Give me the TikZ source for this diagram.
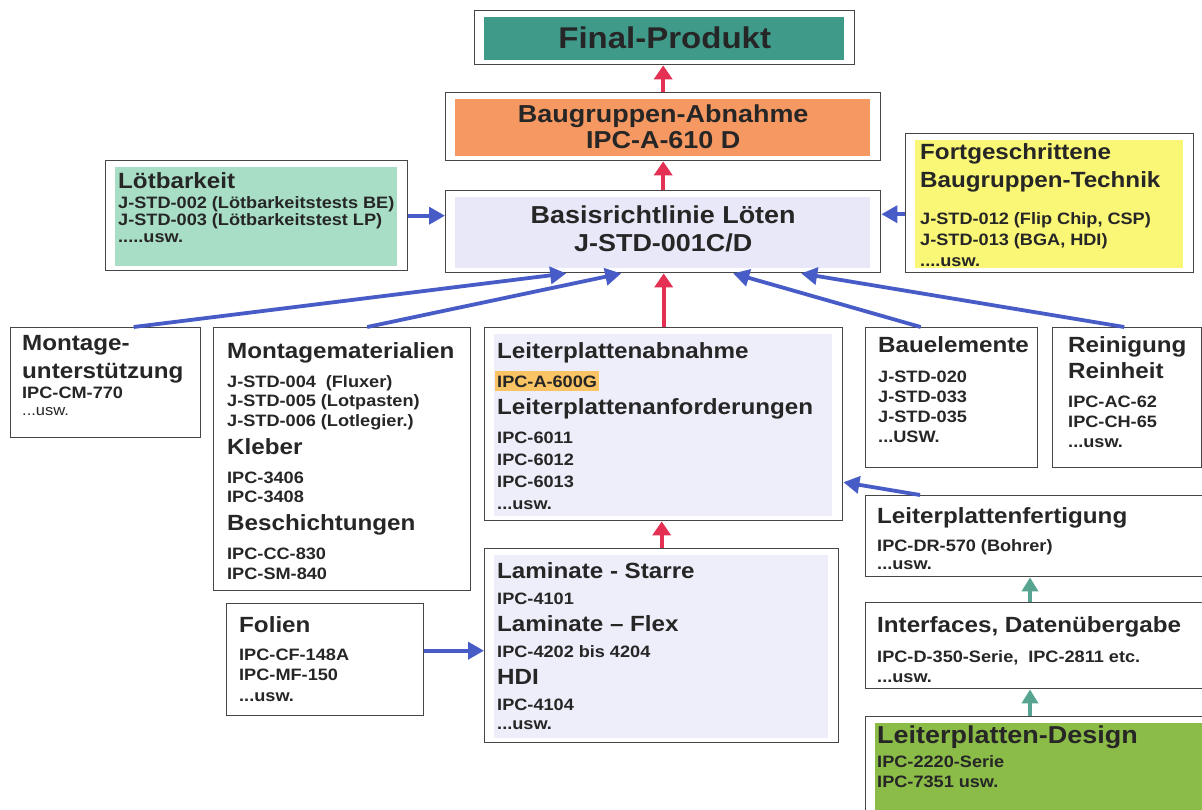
\documentclass[tikz,border=0pt]{standalone}
\usepackage{fontspec}
\setmainfont{Liberation Sans}[FakeStretch=1.1]
\usetikzlibrary{arrows.meta,positioning,calc}
\definecolor{boxgray}{RGB}{70,70,70}
\definecolor{txtgray}{RGB}{38,38,38}
\definecolor{finteal}{RGB}{64,154,138}
\definecolor{bgaorange}{RGB}{245,152,98}
\definecolor{loetmint}{RGB}{168,222,198}
\definecolor{baslav}{RGB}{232,232,248}
\definecolor{lplav}{RGB}{238,238,250}
\definecolor{fortyellow}{RGB}{250,246,118}
\definecolor{desgreen}{RGB}{140,188,72}
\definecolor{hlorange}{RGB}{250,196,100}
\definecolor{arrred}{RGB}{228,48,82}
\definecolor{arrblue}{RGB}{72,92,200}
\definecolor{arrteal}{RGB}{88,164,146}
\newlength{\hdskip}\newlength{\itskip}\newlength{\hdgap}
\newcommand{\wsp}{\spaceskip=0.3em\relax}
\newcommand{\boxhd}[2][22]{{\fontsize{#1}{\hdskip}\selectfont\bfseries\wsp
  \rule{0pt}{0.75em}#2\par}\vspace{\dimexpr\hdgap-\itskip\relax}}
\newcommand{\boxit}[1]{{\fontsize{16.5}{\itskip}\selectfont\bfseries\wsp #1\par}}
\newcommand{\boxnote}[1]{{\fontsize{15}{\itskip}\selectfont #1\par}}

\begin{document}
\begin{tikzpicture}[x=1pt, y=-1pt,
    box/.style={rectangle, draw=boxgray, line width=1.4pt, anchor=north west, inner sep=0pt},
    inset/.style={path picture={\fill[#1] ([xshift=9pt,yshift=-6pt]path picture bounding box.north west)
        rectangle ([xshift=-11pt,yshift=5pt]path picture bounding box.south east);}},
    title/.style={font={\fontsize{24.5}{26}\selectfont\bfseries\wsp}, text=txtgray, align=center},
    txt/.style n args={3}{inner sep=0pt, text width=350pt, align=left, text=txtgray,
        execute at begin node={\setlength{\hdskip}{#1pt}\setlength{\itskip}{#2pt}\setlength{\hdgap}{#3pt}}},
    redarr/.style={-{Triangle[width=18pt,length=14pt]}, line width=4pt, arrred},
    bluearr/.style={-{Triangle[width=17pt,length=16pt]}, line width=3.8pt, arrblue},
    tealarr/.style={-{Triangle[width=16pt,length=14pt]}, line width=3.5pt, arrteal}
  ]
  \path[use as bounding box, fill=white] (0,0) rectangle (1202,809);
  \clip (0,0) rectangle (1202,809);

  % main column
  \node[box, inset=finteal, minimum width=380pt, minimum height=54pt, text=txtgray,
        font=\fontsize{30}{32}\selectfont\bfseries] (fin) at (474,10) {Final-Produkt};
  \node[box, inset=bgaorange, minimum width=435pt, minimum height=68pt, title] (bga) at (445,92)
        {Baugruppen-Abnahme\\IPC-A-610 D};
  \node[box, inset=baslav, minimum width=435pt, minimum height=82pt, title,
        font={\fontsize{24.5}{28}\selectfont\bfseries\wsp}] (basis) at (445,190)
        {Basisrichtlinie Löten\\J-STD-001C/D\rule[-7pt]{0pt}{1pt}};
  \node[box, inset=lplav, minimum width=358pt, minimum height=193pt] (lpa) at (484,327) {};
  \node[box, inset=lplav, minimum width=354pt, minimum height=194pt] (lam) at (484,548) {};

  % side boxes
  \node[box, inset=loetmint, minimum width=302pt, minimum height=110pt] (loet) at (105,160) {};
  \node[box, inset=fortyellow, minimum width=288pt, minimum height=139pt] (fort) at (905,133) {};
  \node[box, minimum width=190pt, minimum height=110pt] (mont) at (10,327) {};
  \node[box, minimum width=257pt, minimum height=263pt] (mat) at (213,327) {};
  \node[box, minimum width=172pt, minimum height=140pt] (bau) at (865,327) {};
  \node[box, minimum width=149pt, minimum height=140pt] (rein) at (1052,327) {};
  \node[box, minimum width=350pt, minimum height=81pt] (fert) at (865,495) {};
  \node[box, minimum width=350pt, minimum height=86pt] (intf) at (865,602) {};
  \node[box, inset=desgreen, minimum width=350pt, minimum height=100pt] (des) at (865,716) {};
  \node[box, minimum width=197pt, minimum height=112pt] (fol) at (226,603) {};

  % box texts
  \node[txt={28}{17}{20}, below right=11.5pt and 13pt of loet.north west] (loet-t)
    {\boxhd{Lötbarkeit}\boxit{J-STD-002 (Lötbarkeitstests BE)}\boxit{J-STD-003 (Lötbarkeitstest LP)}\boxit{.....usw.}};
  \node[txt={28}{21}{37}, below right=9.5pt and 15pt of fort.north west] (fort-t)
    {\boxhd{Fortgeschrittene\\Baugruppen-Technik}\boxit{J-STD-012 (Flip Chip, CSP)}\boxit{J-STD-013 (BGA, HDI)}\boxit{....usw.}};
  \node[txt={28}{17}{20}, below right=6.5pt and 12pt of mont.north west] (mont-t)
    {\boxhd{Montage-\\unterstützung}\boxit{IPC-CM-770}\boxnote{...usw.}};
  \node[txt={28}{19.5}{29}, below right=14.5pt and 14pt of mat.north west] (mat-t)
    {\boxhd{Montagematerialien}\boxit{J-STD-004~ (Fluxer)}\boxit{J-STD-005 (Lotpasten)}\boxit{J-STD-006 (Lotlegier.)}%
     \boxhd{Kleber}\boxit{IPC-3406}\boxit{IPC-3408}\boxhd{Beschichtungen}\boxit{IPC-CC-830}\boxit{IPC-SM-840}};
  \node[txt={27}{22}{29}, below right=14.5pt and 13pt of lpa.north west] (lpa-t)
    {\boxhd{Leiterplattenabnahme}%
     \boxit{\hspace*{-2pt}{\setlength{\fboxsep}{2pt}\colorbox{hlorange}{\rule[-2pt]{0pt}{16pt}IPC-A-600G}}}%
     \boxhd{Leiterplattenanforderungen}\boxit{IPC-6011}\boxit{IPC-6012}\boxit{IPC-6013}\boxit{...usw.}};
  \node[txt={28}{20}{30}, below right=8.5pt and 13pt of bau.north west] (bau-t)
    {\boxhd{Bauelemente}\boxit{J-STD-020}\boxit{J-STD-033}\boxit{J-STD-035}\boxit{...USW.}};
  \node[txt={26}{20}{29}, below right=8.5pt and 16pt of rein.north west] (rein-t)
    {\boxhd{Reinigung\\Reinheit}\boxit{IPC-AC-62}\boxit{IPC-CH-65}\boxit{...usw.}};
  \node[txt={28}{18}{28}, below right=11.5pt and 12pt of fert.north west] (fert-t)
    {\boxhd{Leiterplattenfertigung}\boxit{IPC-DR-570 (Bohrer)}\boxit{...usw.}};
  \node[txt={28}{20}{30}, below right=13.5pt and 12pt of intf.north west] (intf-t)
    {\boxhd{Interfaces, Datenübergabe}\boxit{IPC-D-350-Serie,~ IPC-2811 etc.}\boxit{...usw.}};
  \node[txt={28}{20}{24}, below right=8.6pt and 12pt of des.north west] (des-t)
    {\boxhd[24.5]{Leiterplatten-Design}\boxit{IPC-2220-Serie}\boxit{IPC-7351 usw.}};
  \node[txt={28}{20.5}{28}, below right=12.5pt and 13pt of fol.north west] (fol-t)
    {\boxhd{Folien}\boxit{IPC-CF-148A}\boxit{IPC-MF-150}\boxit{...usw.}};
  \node[txt={27}{19}{26}, below right=13.5pt and 13pt of lam.north west] (lam-t)
    {\boxhd{Laminate - Starre}\boxit{IPC-4101}\boxhd{Laminate -- Flex}\boxit{IPC-4202 bis 4204}%
     \boxhd{HDI}\boxit{IPC-4104}\boxit{...usw.}};

  % upward chain
  \draw[redarr] (bga.north) -- (bga.north |- fin.south);
  \draw[redarr] (basis.north) -- (basis.north |- bga.south);
  \draw[redarr] (lpa.north) -- (lpa.north |- basis.south);
  \draw[redarr] (lam.north) -- (lam.north |- lpa.south);

  % inputs into the base standard
  \draw[bluearr] (loet.east) -- (loet.east -| basis.west);
  \draw[bluearr] ([yshift=-11pt]fort.west) -- ([yshift=-11pt]fort.west -| basis.east);
  \draw[bluearr] ([xshift=28pt]mont.north) -- ([xshift=-97pt]basis.south);
  \draw[bluearr] ([xshift=25pt]mat.north) -- ([xshift=-42pt]basis.south);
  \draw[bluearr] ([xshift=-31pt]bau.north) -- ([xshift=70pt]basis.south);
  \draw[bluearr] ([xshift=-3pt]rein.north) -- ([xshift=138pt]basis.south);
  \draw[bluearr] ([xshift=55pt]fert.north west) -- ([yshift=-58pt]lpa.east);
  \draw[bluearr] ([yshift=9pt]fol.east) -- ([yshift=9pt]fol.east -| lam.west);

  % board design chain
  \draw[tealarr] ([xshift=165pt]intf.north west) -- ([xshift=165pt]fert.south west);
  \draw[tealarr] ([xshift=165pt]des.north west) -- ([xshift=165pt]intf.south west);
\end{tikzpicture}
\end{document}
